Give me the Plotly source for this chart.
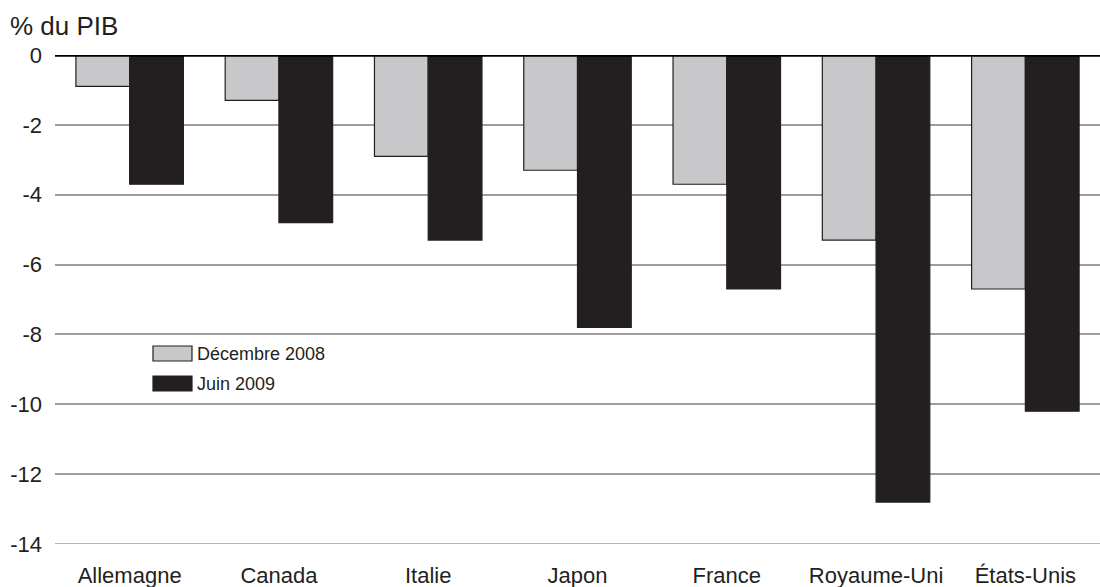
import plotly.graph_objects as go

pays = ["Allemagne", "Canada", "Italie", "Japon", "France", "Royaume-Uni", "États-Unis"]
decembre_2008 = [-0.9, -1.3, -2.9, -3.3, -3.7, -5.3, -6.7]
juin_2009 = [-3.7, -4.8, -5.3, -7.8, -6.7, -12.8, -10.2]
y_ticks = [0, -2, -4, -6, -8, -10, -12, -14]

W, H = 1100, 587
L, R, T, B = 55, 0, 55, 43
FONT = "Liberation Sans, Arial, Helvetica, sans-serif"
GREY = "#c8c8ca"
DARK = "#231f20"

fig = go.Figure()
fig.add_trace(go.Bar(x=pays, y=decembre_2008, name="Décembre 2008",
                     marker=dict(color=GREY, line=dict(color=DARK, width=1.2))))
fig.add_trace(go.Bar(x=pays, y=juin_2009, name="Juin 2009",
                     marker=dict(color=DARK, line=dict(color=DARK, width=1.2))))

# paper-coordinate helpers
def px_x(p):
    return (p - L) / (W - L - R)

def px_y(p):
    return (H - B - p) / (H - T - B)

shapes = [
    # bottom gridline at the edge of the range
    dict(type="line", xref="paper", yref="y", x0=0, x1=1, y0=-14, y1=-14,
         line=dict(color="#9d9d9f", width=1.5), layer="below"),
    # thick zero line
    dict(type="line", xref="paper", yref="y", x0=0, x1=1, y0=0, y1=0,
         line=dict(color="black", width=3.5), layer="above"),
    # legend swatches
    dict(type="rect", xref="paper", yref="paper",
         x0=px_x(153), x1=px_x(192), y0=px_y(361), y1=px_y(346),
         fillcolor=GREY, line=dict(color=DARK, width=1.2), layer="above"),
    dict(type="rect", xref="paper", yref="paper",
         x0=px_x(153), x1=px_x(192), y0=px_y(391), y1=px_y(376),
         fillcolor=DARK, line=dict(color=DARK, width=1.2), layer="above"),
]

annotations = [
    dict(text="% du PIB", xref="paper", yref="paper", x=px_x(8), y=px_y(26),
         xanchor="left", yanchor="middle", showarrow=False,
         font=dict(size=26, color="#231f20", family=FONT)),
    dict(text="Décembre 2008", xref="paper", yref="paper", x=px_x(195), y=px_y(354),
         xanchor="left", yanchor="middle", showarrow=False,
         font=dict(size=18, color="#231f20", family=FONT)),
    dict(text="Juin 2009", xref="paper", yref="paper", x=px_x(195), y=px_y(384),
         xanchor="left", yanchor="middle", showarrow=False,
         font=dict(size=18, color="#231f20", family=FONT)),
]

fig.update_layout(
    width=W, height=H,
    margin=dict(l=L, r=R, t=T, b=B, pad=0),
    barmode="group", bargap=0.28, bargroupgap=0,
    plot_bgcolor="white", paper_bgcolor="white",
    showlegend=False,
    font=dict(family=FONT, size=22, color="#231f20"),
    shapes=shapes, annotations=annotations,
    xaxis=dict(showgrid=False, showline=False, ticks="", ticklabelstandoff=16,
               tickfont=dict(size=22)),
    yaxis=dict(range=[-14, 0], tickvals=y_ticks, ticktext=[str(v) for v in y_ticks],
               showgrid=True, gridcolor="#9d9d9f", gridwidth=1.5, zeroline=False,
               showline=False, ticks="", ticklabelstandoff=12, tickfont=dict(size=22)),
)

fig.write_html("out.html")
